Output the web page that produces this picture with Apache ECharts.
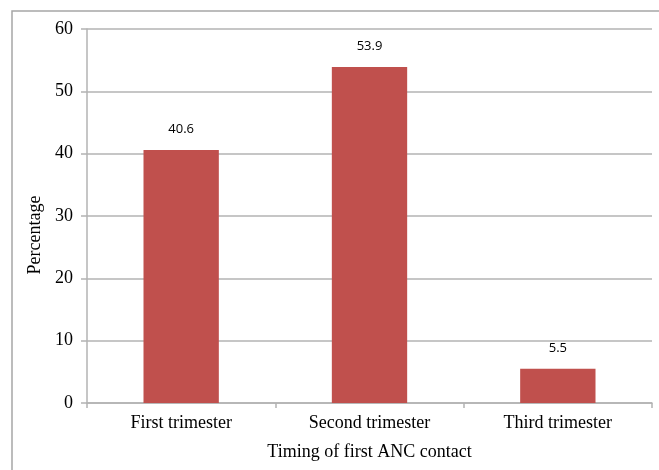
<!DOCTYPE html>
<html><head><meta charset="utf-8">
<script src="https://cdn.jsdelivr.net/npm/echarts@6/dist/echarts.min.js"></script>
<style>html,body{margin:0;padding:0;background:#fff}#c{width:659px;height:470px}</style>
</head><body><div id="c"></div>
<script>
var categories = ['First trimester', 'Second trimester', 'Third trimester'];
var values = [40.6, 53.9, 5.5];
var yTicks = [0, 10, 20, 30, 40, 50, 60];

var chart = echarts.init(document.getElementById('c'));
chart.setOption({
  animation: false,
  graphic: [{type: 'rect', shape: {x: 12, y: 11, width: 700, height: 500}, style: {fill: 'none', stroke: '#a6a6a6', lineWidth: 1.5}, z: 0}],
  grid: {left: 87, right: 7, top: 29, bottom: 67},
  xAxis: {
    type: 'category', data: categories,
    name: 'Timing of first ANC contact', nameLocation: 'middle', nameGap: 40,
    nameTextStyle: {fontFamily: 'Liberation Serif', fontSize: 18, color: '#000'},
    axisLine: {lineStyle: {color: '#b3b3b3', width: 1.5}},
    axisTick: {show: true, length: 5, lineStyle: {color: '#b3b3b3', width: 1.5}},
    axisLabel: {fontFamily: 'Liberation Serif', fontSize: 18, color: '#000', margin: 11}
  },
  yAxis: {
    type: 'value', min: 0, max: 60, interval: 10,
    name: 'Percentage', nameLocation: 'middle', nameGap: 42, nameRotate: 90,
    nameTextStyle: {fontFamily: 'Liberation Serif', fontSize: 18, color: '#000', padding: [0, 38, 0, 0]},
    axisLine: {show: true, lineStyle: {color: '#b3b3b3', width: 1.5}},
    axisTick: {show: true, length: 6, lineStyle: {color: '#b3b3b3', width: 1.5}},
    splitLine: {lineStyle: {color: '#b3b3b3', width: 1.5}},
    axisLabel: {fontFamily: 'Liberation Serif', fontSize: 18, color: '#000', margin: 14,
      formatter: function (v) { return yTicks.indexOf(v) >= 0 ? String(v) : ''; }}
  },
  series: [{
    type: 'bar', data: values, barWidth: '40%',
    itemStyle: {color: '#c0504d'},
    label: {show: true, position: 'top', distance: 14, fontFamily: 'Open Sans', fontSize: 13, color: '#000'}
  }]
});
</script></body></html>
